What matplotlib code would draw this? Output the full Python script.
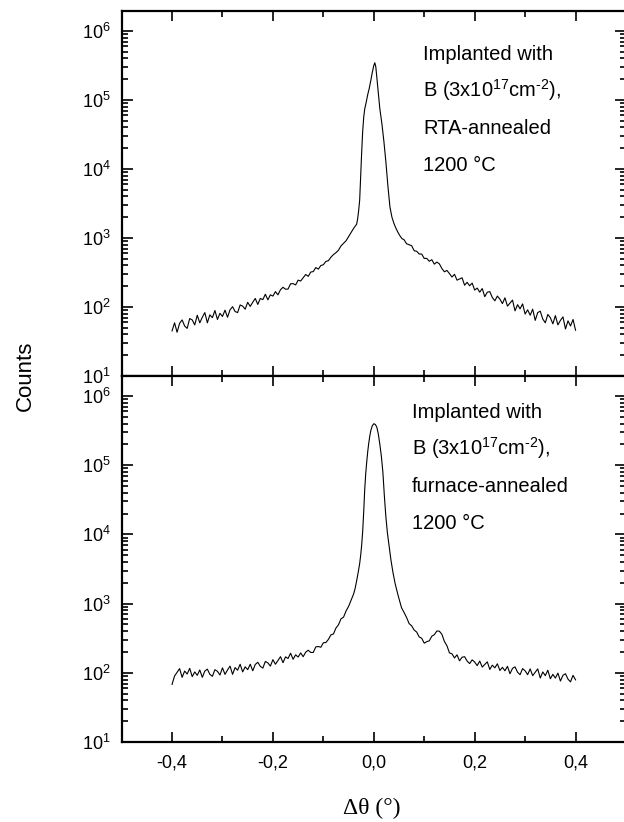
import numpy as np
import matplotlib
matplotlib.use('Agg')
import matplotlib.pyplot as plt
from matplotlib.ticker import MultipleLocator, FuncFormatter, LogLocator

plt.rcParams['font.family'] = ['Liberation Sans', 'DejaVu Sans']
plt.rcParams['mathtext.fontset'] = 'custom'
plt.rcParams['mathtext.rm'] = 'Liberation Sans'
plt.rcParams['mathtext.it'] = 'Liberation Sans:italic'
plt.rcParams['mathtext.bf'] = 'Liberation Sans:bold'

# scan grid of the tails (same for both samples), in degrees
theta_left = [-0.400, -0.395, -0.390, -0.385, -0.380, -0.375, -0.370, -0.365, -0.360, -0.355,
              -0.350, -0.345, -0.340, -0.335, -0.330, -0.325, -0.320, -0.315, -0.310, -0.305,
              -0.300, -0.295, -0.290, -0.285, -0.280, -0.275, -0.270, -0.265, -0.260, -0.255,
              -0.250, -0.245, -0.240, -0.235, -0.230, -0.225, -0.220, -0.215, -0.210, -0.205,
              -0.200, -0.195, -0.190, -0.185, -0.180, -0.175, -0.170, -0.165, -0.160, -0.155,
              -0.150, -0.145, -0.140, -0.135, -0.130, -0.125, -0.120, -0.115, -0.110, -0.105,
              -0.100, -0.095, -0.090, -0.085, -0.080, -0.075, -0.070, -0.065, -0.060, -0.055,
              -0.050, -0.045, -0.040]
theta_right = [0.060, 0.065, 0.070, 0.075, 0.080, 0.085, 0.090, 0.095, 0.100, 0.105,
               0.110, 0.115, 0.120, 0.125, 0.130, 0.135, 0.140, 0.145, 0.150, 0.155,
               0.160, 0.165, 0.170, 0.175, 0.180, 0.185, 0.190, 0.195, 0.200, 0.205,
               0.210, 0.215, 0.220, 0.225, 0.230, 0.235, 0.240, 0.245, 0.250, 0.255,
               0.260, 0.265, 0.270, 0.275, 0.280, 0.285, 0.290, 0.295, 0.300, 0.305,
               0.310, 0.315, 0.320, 0.325, 0.330, 0.335, 0.340, 0.345, 0.350, 0.355,
               0.360, 0.365, 0.370, 0.375, 0.380, 0.385, 0.390, 0.395, 0.400]

# RTA-annealed sample (top panel)
rta_left = [45, 59, 43, 58, 65, 53, 49, 68, 65, 55,
            76, 59, 71, 83, 59, 77, 70, 89, 66, 81,
            73, 90, 71, 91, 101, 86, 83, 107, 103, 93,
            117, 102, 117, 133, 109, 133, 128, 153, 127, 150,
            144, 167, 150, 178, 193, 181, 182, 217, 218, 209,
            245, 238, 265, 296, 278, 321, 326, 373, 354, 399,
            410, 458, 469, 527, 575, 613, 666, 768, 835, 912,
            1047, 1202, 1380]
rta_peak_theta = [-0.034, -0.032, -0.030, -0.028, -0.026, -0.024, -0.022, -0.020, -0.018, -0.015,
                  -0.012, -0.009, -0.006, -0.003, 0.000, 0.002, 0.004, 0.006, 0.008, 0.010,
                  0.012, 0.016, 0.020, 0.024, 0.028, 0.032, 0.036, 0.040, 0.044, 0.048,
                  0.052, 0.056]
rta_peak = [1585, 1905, 2512, 3548, 7943, 17783, 35481, 56234, 74131, 93325,
            120226, 147911, 190546, 251189, 316228, 346737, 301995, 213796, 151356, 104713,
            74131, 45709, 25119, 12589, 5623, 2818, 1995, 1622, 1380, 1202,
            1072, 977]
rta_right = [945, 825, 799, 774, 655, 642, 586, 585, 506, 506,
             460, 485, 418, 448, 422, 361, 324, 339, 305, 272,
             298, 245, 255, 265, 207, 228, 203, 222, 176, 188,
             164, 185, 141, 164, 167, 137, 123, 144, 130, 112,
             136, 103, 114, 126, 88, 108, 94, 111, 79, 91,
             76, 93, 64, 83, 87, 67, 59, 78, 70, 57,
             75, 55, 64, 72, 48, 63, 53, 66, 46]

# furnace-annealed sample (bottom panel)
furn_left = [68, 90, 102, 115, 86, 106, 96, 116, 88, 103,
             92, 110, 86, 106, 113, 95, 89, 111, 105, 93,
             118, 95, 110, 125, 95, 119, 109, 133, 103, 122,
             111, 133, 107, 132, 142, 124, 117, 146, 139, 125,
             155, 133, 151, 171, 140, 170, 161, 192, 157, 182,
             169, 194, 171, 199, 212, 197, 197, 237, 240, 234,
             272, 274, 304, 354, 364, 444, 495, 603, 637, 783,
             912, 1122, 1380]
furn_peak_theta = [-0.037, -0.034, -0.031, -0.028, -0.026, -0.024, -0.022, -0.020, -0.018, -0.016,
                   -0.014, -0.012, -0.010, -0.008, -0.006, -0.003, 0.000, 0.003, 0.006, 0.009,
                   0.012, 0.015, 0.018, 0.021, 0.024, 0.027, 0.030, 0.034, 0.038, 0.042,
                   0.046, 0.050, 0.055]
furn_peak = [1660, 2138, 2818, 3802, 5012, 7079, 11220, 21380, 44670, 75860,
             112200, 158500, 208900, 263000, 316200, 371500, 398100, 389000, 354800, 281800,
             199500, 134900, 79430, 35480, 17780, 10470, 7079, 4266, 2818, 1995,
             1514, 1175, 871]
furn_right = [745, 630, 515, 478, 415, 388, 330, 316, 268, 282,
              290, 338, 356, 402, 400, 360, 284, 246, 194, 188,
              164, 182, 149, 168, 171, 148, 136, 154, 143, 127,
              148, 121, 132, 144, 112, 129, 118, 135, 108, 120,
              107, 124, 97, 116, 122, 102, 94, 115, 107, 94,
              114, 91, 102, 114, 84, 103, 91, 109, 82, 95,
              84, 99, 76, 92, 97, 81, 74, 92, 79]

rta_text = ['Implanted with', r'B (3x10$^{17}$cm$^{\text{-}2}$),', 'RTA-annealed', '1200 \u00b0C']
furn_text = ['Implanted with', r'B (3x10$^{17}$cm$^{\text{-}2}$),', 'furnace-annealed', '1200 \u00b0C']

W, H = 624, 822
fig = plt.figure(figsize=(W / 100, H / 100), dpi=100)


def px_axes(x0, y0, x1, y1):
    return [x0 / W, 1 - y1 / H, (x1 - x0) / W, (y1 - y0) / H]


ax_top = fig.add_axes(px_axes(121.6, 11, 626, 376))
ax_bot = fig.add_axes(px_axes(121.6, 376, 626, 742))


def comma_fmt(v, pos):
    if abs(v) < 1e-9:
        v = 0.0
    return f'{v:.1f}'.replace('.', ',')


panels = [
    (ax_top, theta_left + rta_peak_theta + theta_right, rta_left + rta_peak + rta_right,
     rta_text, 0.5975, [60, 97, 134, 171], 11, 376),
    (ax_bot, theta_left + furn_peak_theta + theta_right, furn_left + furn_peak + furn_right,
     furn_text, 0.5757, [418, 455, 492, 529], 376, 742),
]

for ax, th, ct, lines, tx, baselines, ytop, ybot in panels:
    ax.plot(th, ct, color='black', lw=0.8)
    ax.set_yscale('log')
    ax.set_ylim(10, 1.95e6)
    ax.set_xlim(-0.5, 0.5)
    ax.xaxis.set_major_locator(MultipleLocator(0.2))
    ax.xaxis.set_minor_locator(MultipleLocator(0.1))
    ax.xaxis.set_major_formatter(FuncFormatter(comma_fmt))
    ax.yaxis.set_major_locator(LogLocator(base=10, numticks=10))
    ax.yaxis.set_minor_locator(LogLocator(base=10, subs=np.arange(2, 10), numticks=20))
    ax.tick_params(which='both', direction='in', top=True, right=True, width=1.2,
                   labelsize=13, color='black')
    ax.tick_params(axis='x', which='major', length=7.5, pad=9)
    ax.tick_params(axis='x', which='minor', length=4)
    ax.tick_params(axis='y', which='major', length=8, pad=8)
    ax.tick_params(axis='y', which='minor', length=4.5)
    for sp in ax.spines.values():
        sp.set_linewidth(1.6)
    for s, b in zip(lines, baselines):
        ax.text(tx, (ybot - b) / (ybot - ytop), s, transform=ax.transAxes,
                fontsize=14.5, va='baseline', ha='left')

ax_top.tick_params(axis='x', labelbottom=False)

fig.text(25 / W, 1 - 376 / H, 'Counts', rotation=90, fontsize=16, ha='center', va='center')
fig.text(372 / W, 1 - 808 / H, '\u0394\u03b8 (\u00b0)', family=['Liberation Serif', 'DejaVu Serif'],
         fontsize=17, ha='center', va='center')

fig.savefig('out.png', dpi=100)
